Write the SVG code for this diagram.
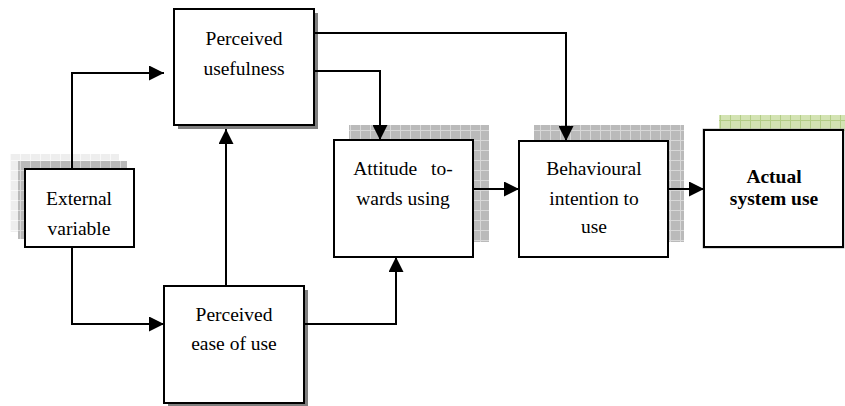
<svg xmlns="http://www.w3.org/2000/svg" width="845" height="406" viewBox="0 0 845 406">
<defs>
<pattern id="pGrey" patternUnits="userSpaceOnUse" width="10" height="10">
<rect width="10" height="10" fill="#bababa"/>
<path d="M0,0.5 H10 M0.5,0 V10" stroke="#d8d8d8" stroke-width="1"/>
</pattern>
<pattern id="pLight" patternUnits="userSpaceOnUse" width="10" height="10">
<rect width="10" height="10" fill="#eeeeee"/>
<path d="M0,0.5 H10 M0.5,0 V10" stroke="#f9f9f9" stroke-width="1"/>
</pattern>
<pattern id="pGreen" patternUnits="userSpaceOnUse" width="10" height="10">
<rect width="10" height="10" fill="#d3e3b3"/>
<path d="M0,0.5 H10 M0.5,0 V10" stroke="#b3cd86" stroke-width="1"/>
</pattern>
<marker id="arr" markerUnits="userSpaceOnUse" markerWidth="15" markerHeight="15" refX="15" refY="7.5" orient="auto">
<path d="M0,0 L15,7.5 L0,15 z" fill="#000"/>
</marker>
</defs>
<style>
.box{fill:#fff;stroke:#000;stroke-width:2}
.shadow{fill:#7f7f7f}
.t{font-family:"Liberation Serif","Times New Roman",serif;font-size:19.5px;fill:#000;text-anchor:middle}
.b{font-weight:bold}
.c{fill:none;stroke:#000;stroke-width:2;marker-end:url(#arr)}
</style>
<g id="external">
<rect x="10" y="154" width="109" height="78" fill="url(#pLight)"/>
<rect x="18" y="161" width="109" height="78" fill="url(#pGrey)"/>
<rect class="box" x="25" y="169" width="109" height="78"/>
<text class="t" x="79" y="205">External</text>
<text class="t" x="79" y="235">variable</text>
</g>
<g id="usefulness">
<rect class="shadow" x="178" y="13" width="140" height="116"/>
<rect class="box" x="174" y="9" width="140" height="116"/>
<text class="t" x="244" y="45">Perceived</text>
<text class="t" x="244" y="75">usefulness</text>
</g>
<g id="ease">
<rect class="shadow" x="168" y="290" width="140" height="116"/>
<rect class="box" x="164" y="286" width="140" height="117"/>
<text class="t" x="234" y="321">Perceived</text>
<text class="t" x="234" y="350">ease of use</text>
</g>
<g id="attitude">
<rect x="349" y="125" width="140" height="117" fill="url(#pGrey)"/>
<rect class="box" x="334" y="140" width="139" height="117"/>
<text class="t" x="403" y="175" word-spacing="9">Attitude to-</text>
<text class="t" x="403" y="205">wards using</text>
</g>
<g id="behavioural">
<rect x="534" y="125" width="150" height="117" fill="url(#pGrey)"/>
<rect class="box" x="519" y="141" width="149" height="116"/>
<text class="t" x="594" y="175">Behavioural</text>
<text class="t" x="594" y="205">intention to</text>
<text class="t" x="594" y="233">use</text>
</g>
<g id="actual">
<rect x="719" y="115" width="126" height="16" fill="url(#pGreen)"/>
<rect x="703" y="129" width="141" height="119" fill="none" stroke="#b0b0b0" stroke-width="1"/>
<rect class="box" x="704" y="130" width="139" height="117"/>
<text class="t b" x="774" y="183">Actual</text>
<text class="t b" x="774" y="205">system use</text>
</g>
<g id="connectors">
<path class="c" d="M72,169 V73 H164"/>
<path class="c" d="M72,247 V324 H164"/>
<path class="c" d="M226,286 V129"/>
<path class="c" d="M304,324 H396 V257"/>
<path class="c" d="M314,71 H380 V140"/>
<path class="c" d="M314,33 H566 V141"/>
<path class="c" d="M473,189 H519"/>
<path class="c" d="M668,189 H704"/>
</g>
</svg>
